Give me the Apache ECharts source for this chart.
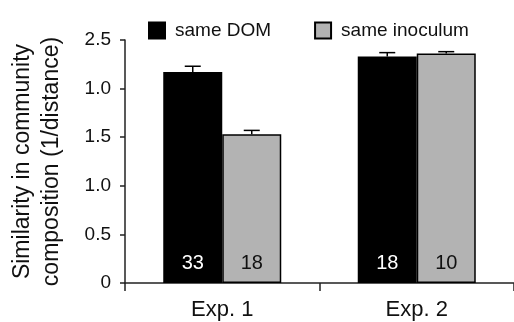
<!DOCTYPE html>
<html><head><meta charset="utf-8">
<script src="https://cdn.jsdelivr.net/npm/echarts@6/dist/echarts.min.js"></script>
<style>html,body{margin:0;padding:0;background:#fff}#c{width:514px;height:322px}</style>
</head><body><div id="c"></div>
<script>
var categories = ['Exp. 1', 'Exp. 2'];
var seriesNames = ['same DOM', 'same inoculum'];
var sameDOM = [2.17, 2.33];
var sameInoculum = [1.53, 2.36];
var errDOM = [0.06, 0.04];
var errInoculum = [0.04, 0.02];
var nDOM = ['33', '18'];
var nInoculum = ['18', '10'];
var yTickLabels = ['0', '0.5', '1.0', '1.5', '1.0', '2.5'];

var FONT = 'Liberation Sans, Arial, sans-serif';
var chart = echarts.init(document.getElementById('c'), null, {renderer: 'canvas'});

function barSeries(name, vals, ns, fill, labelColor) {
  return {
    name: name, type: 'bar', barWidth: 59, barGap: '0%',
    itemStyle: {color: fill, borderColor: '#000', borderWidth: 1.5},
    label: {show: true, position: 'insideBottom', distance: 10, color: labelColor,
      fontSize: 20, fontFamily: FONT,
      formatter: function (p) { return ns[p.dataIndex]; }},
    data: vals
  };
}
function errSeries(vals, errs, offset) {
  return {
    type: 'custom', silent: true, z: 5,
    renderItem: function (params, api) {
      var i = api.value(0);
      var base = api.coord([i, vals[i]]);
      var top = api.coord([i, vals[i] + errs[i]]);
      var x = base[0] + offset;
      return {type: 'group', children: [
        {type: 'line', shape: {x1: x, y1: base[1], x2: x, y2: top[1]}, style: {stroke: '#000', lineWidth: 1.5}},
        {type: 'line', shape: {x1: x - 8, y1: top[1], x2: x + 8, y2: top[1]}, style: {stroke: '#000', lineWidth: 1.5}}
      ]};
    },
    data: categories.map(function (c, i) { return [i]; })
  };
}

chart.setOption({
  animation: false,
  textStyle: {fontFamily: FONT},
  legend: {
    left: 143, top: 16, itemWidth: 16, itemHeight: 16, itemGap: 43, icon: 'rect',
    textStyle: {fontSize: 19, color: '#111', fontFamily: FONT, padding: [0, 0, 0, 5]},
    data: seriesNames
  },
  grid: {left: 124, top: 40, width: 402, height: 243, containLabel: false},
  xAxis: {
    type: 'category', data: categories,
    axisLine: {lineStyle: {color: '#222', width: 1.5}},
    axisTick: {show: true, length: 8, lineStyle: {color: '#222', width: 1.5}},
    axisLabel: {fontSize: 22, color: '#111', margin: 16, fontFamily: FONT}
  },
  yAxis: {
    type: 'value', min: 0, max: 2.5, interval: 0.5,
    name: 'Similarity in community\ncomposition (1/distance)',
    nameLocation: 'middle', nameGap: 59, nameRotate: 90,
    nameTextStyle: {fontSize: 23, color: '#111', lineHeight: 29, fontFamily: FONT},
    splitLine: {show: false},
    axisLine: {show: true, lineStyle: {color: '#222', width: 1.5}},
    axisTick: {show: true, length: 5, lineStyle: {color: '#222', width: 1.5}},
    axisLabel: {fontSize: 19, color: '#111', margin: 14, fontFamily: FONT,
      formatter: function (v) { return yTickLabels[Math.round(v / 0.5)]; }}
  },
  series: [
    barSeries(seriesNames[0], sameDOM, nDOM, '#000', '#fff'),
    barSeries(seriesNames[1], sameInoculum, nInoculum, '#b3b3b3', '#111'),
    errSeries(sameDOM, errDOM, -29.5),
    errSeries(sameInoculum, errInoculum, 29.5)
  ]
});
</script></body></html>
